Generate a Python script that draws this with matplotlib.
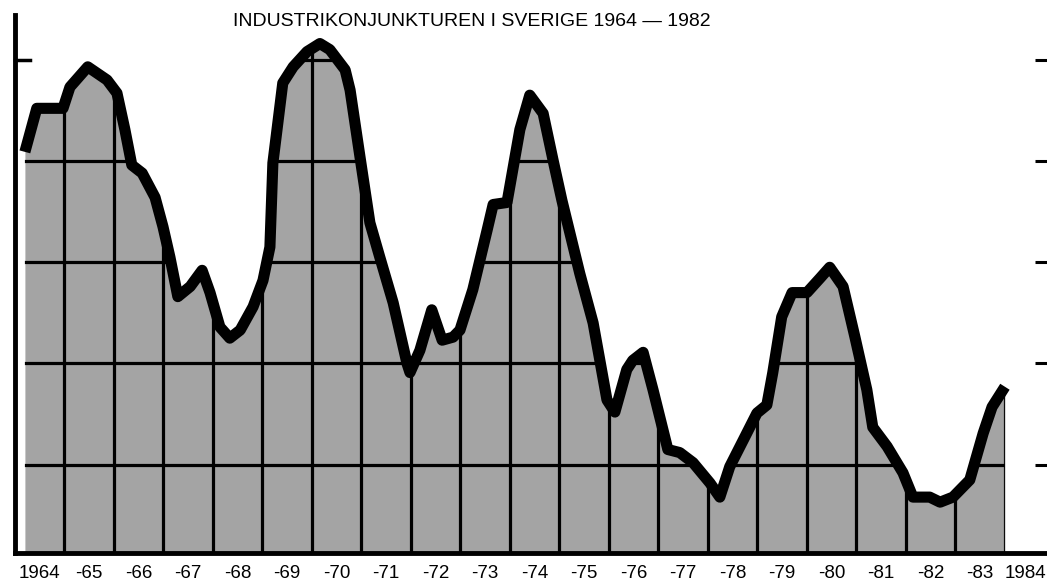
import matplotlib
matplotlib.use('Agg')
import matplotlib.pyplot as plt
import matplotlib.transforms as mtransforms

plt.rcParams['font.family'] = ['Liberation Sans Narrow', 'Liberation Sans', 'DejaVu Sans']

# industry business cycle index (grid units)
years = [1964.20, 1964.44, 1964.97, 1965.11, 1965.47, 1965.86, 1966.06, 1966.22,
         1966.36, 1966.57, 1966.83, 1966.99, 1967.13, 1967.29, 1967.54, 1967.78,
         1967.94, 1968.14, 1968.34, 1968.55, 1968.81, 1969.01, 1969.15, 1969.21,
         1969.41, 1969.62, 1969.90, 1970.16, 1970.36, 1970.67, 1970.77, 1970.97,
         1971.17, 1971.37, 1971.64, 1971.92, 1971.98, 1972.18, 1972.42, 1972.63,
         1972.85, 1972.99, 1973.25, 1973.54, 1973.66, 1973.94, 1974.20, 1974.40,
         1974.67, 1974.87, 1975.05, 1975.41, 1975.68, 1975.96, 1976.12, 1976.36,
         1976.48, 1976.69, 1976.89, 1977.19, 1977.43, 1977.70, 1978.04, 1978.24,
         1978.44, 1978.71, 1978.99, 1979.19, 1979.31, 1979.49, 1979.70, 1980.00,
         1980.26, 1980.46, 1980.73, 1980.97, 1981.21, 1981.33, 1981.62, 1981.94,
         1982.14, 1982.48, 1982.69, 1982.95, 1983.29, 1983.56, 1983.74, 1984.00]
index = [4.09, 4.52, 4.52, 4.73, 4.93, 4.80, 4.67, 4.31,
         3.96, 3.88, 3.64, 3.35, 3.05, 2.66, 2.76, 2.92,
         2.70, 2.36, 2.25, 2.33, 2.56, 2.82, 3.15, 3.98,
         4.77, 4.93, 5.08, 5.16, 5.10, 4.90, 4.70, 4.04,
         3.39, 3.05, 2.60, 2.00, 1.91, 2.13, 2.53, 2.23,
         2.26, 2.33, 2.73, 3.32, 3.57, 3.59, 4.31, 4.65,
         4.47, 4.01, 3.61, 2.89, 2.40, 1.64, 1.52, 1.94,
         2.03, 2.11, 1.74, 1.15, 1.12, 1.02, 0.82, 0.68,
         0.98, 1.24, 1.51, 1.59, 1.91, 2.46, 2.70, 2.70,
         2.84, 2.95, 2.76, 2.26, 1.74, 1.37, 1.18, 0.92,
         0.68, 0.68, 0.63, 0.68, 0.85, 1.31, 1.57, 1.77]

label_years = list(range(1964, 1985))
labels = ['1964'] + ['-%02d' % (y % 100) for y in range(1965, 1984)] + ['1984']
grid_years = list(range(1965, 1985))
grid_levels = [1, 2, 3, 4, 5]

ymin, ymax = 0.128, 5.59

fig = plt.figure(figsize=(10.47, 5.88), dpi=100)
ax = fig.add_axes([15 / 1047, 35 / 588, 1032 / 1047, 553 / 588])
ax.set_xlim(1964, 1984.85)
ax.set_ylim(ymin, ymax)

fill = ax.fill_between(years, index, ymin, color='#a4a4a4', lw=0, zorder=1)

# grid only shows inside the shaded area
clip = fill.get_paths()[0]
vl = ax.vlines(grid_years, ymin, ymax, color='black', lw=2.3, zorder=2)
hl = ax.hlines(grid_levels, 1964, 1985, color='black', lw=2.3, zorder=2)
vl.set_clip_path(clip, fill.get_transform())
hl.set_clip_path(clip, fill.get_transform())

ax.plot(years, index, color='black', lw=8, solid_joinstyle='round',
        solid_capstyle='butt', zorder=3)

for s in ['top', 'right']:
    ax.spines[s].set_visible(False)
ax.spines['left'].set_linewidth(3.5)
ax.spines['left'].set_bounds(ymin, 5.44)
ax.spines['bottom'].set_linewidth(3.5)

ax.set_yticks(grid_levels)
ax.yaxis.set_ticks_position('right')
ax.tick_params(axis='y', direction='in', length=9, width=2.2, labelright=False)
# single tick on the left axis
trans = mtransforms.blended_transform_factory(ax.transAxes, ax.transData)
ax.plot([0, 0.015], [5, 5], color='black', lw=2.5, transform=trans, clip_on=False)

ticks = [y + 0.5 for y in label_years]
ticks[-1] = 1984.42
ax.set_xticks(ticks)
ax.set_xticklabels(labels, fontsize=13.5)
ax.tick_params(axis='x', length=0, pad=9)

fig.text(472 / 1047, 1 - 21 / 588, 'INDUSTRIKONJUNKTUREN I SVERIGE 1964 \u2014 1982',
         ha='center', va='center', fontsize=14)

fig.savefig('out.png', dpi=100)
